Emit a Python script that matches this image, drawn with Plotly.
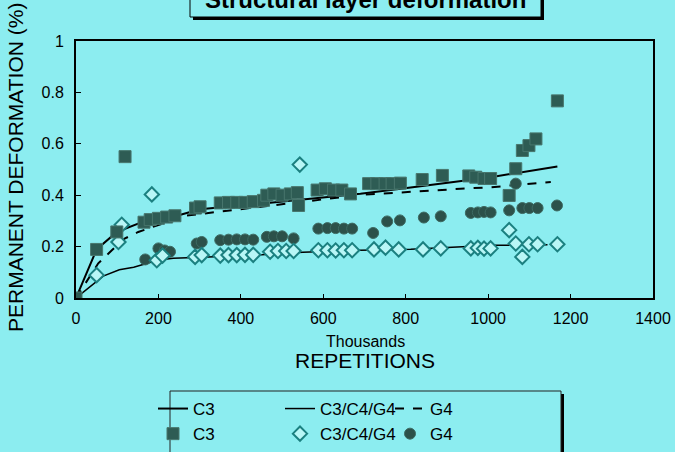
import plotly.graph_objects as go

# ---------------- data ----------------
c3_x = [0, 50, 99, 119, 165, 180, 200, 220, 240, 290, 301, 350, 370, 390, 410, 430, 455,
        463, 480, 500, 520, 537, 540, 585, 605, 625, 645, 666, 710, 730, 750, 767, 787,
        840, 889, 953, 970, 990, 1006, 1051, 1067, 1083, 1099, 1116, 1168]
c3_y = [0, 0.189, 0.257, 0.55, 0.295, 0.305, 0.31, 0.315, 0.32, 0.35, 0.355, 0.37, 0.372,
        0.372, 0.372, 0.375, 0.38, 0.40, 0.405, 0.40, 0.405, 0.41, 0.36, 0.42, 0.425, 0.42,
        0.42, 0.405, 0.445, 0.445, 0.445, 0.445, 0.447, 0.461, 0.477, 0.475, 0.47, 0.465,
        0.465, 0.399, 0.503, 0.574, 0.593, 0.619, 0.767]

mix_x = [50, 103, 111, 184, 196, 210, 289, 305, 350, 370, 390, 410, 430, 471, 490, 510,
         528, 543, 588, 610, 630, 650, 670, 723, 751, 783, 842, 885, 958, 975, 990, 1006,
         1051, 1067, 1083, 1099, 1120, 1168]
mix_y = [0.089, 0.218, 0.285, 0.403, 0.147, 0.165, 0.16, 0.167, 0.165, 0.167, 0.167, 0.168,
         0.168, 0.18, 0.183, 0.183, 0.183, 0.519, 0.186, 0.186, 0.185, 0.186, 0.186, 0.189,
         0.196, 0.189, 0.189, 0.193, 0.193, 0.195, 0.192, 0.193, 0.264, 0.212, 0.16, 0.209,
         0.209, 0.209]

g4_x = [168, 200, 215, 228, 293, 305, 350, 370, 390, 410, 430, 463, 480, 500, 528, 588,
        610, 630, 650, 670, 721, 755, 786, 844, 885, 958, 975, 990, 1006, 1051, 1067, 1083,
        1100, 1120, 1167]
g4_y = [0.15, 0.193, 0.185, 0.18, 0.212, 0.218, 0.225, 0.227, 0.228, 0.228, 0.227, 0.238,
        0.24, 0.24, 0.232, 0.27, 0.272, 0.272, 0.27, 0.27, 0.253, 0.298, 0.302, 0.313, 0.318,
        0.331, 0.333, 0.335, 0.333, 0.341, 0.445, 0.35, 0.35, 0.35, 0.36]

c3_fit_x = [0, 50, 99, 160, 245, 301, 447, 569, 690, 812, 933, 1006, 1168]
c3_fit_y = [0, 0.189, 0.257, 0.295, 0.32, 0.345, 0.367, 0.386, 0.406, 0.43, 0.455, 0.47, 0.512]

mix_fit_x = [0, 66, 105, 140, 200, 236, 321, 450, 550, 690, 812, 909, 1013, 1144]
mix_fit_y = [0, 0.085, 0.11, 0.12, 0.148, 0.155, 0.16, 0.168, 0.178, 0.186, 0.19, 0.198,
             0.205, 0.207]

g4_fit_x = [0, 54, 87, 119, 151, 265, 601, 700, 933, 1006, 1152]
g4_fit_y = [0, 0.135, 0.186, 0.232, 0.257, 0.32, 0.384, 0.402, 0.425, 0.431, 0.451]

x_ticks = [0, 200, 400, 600, 800, 1000, 1200, 1400]
y_ticks = [0, 0.2, 0.4, 0.6, 0.8, 1]

title_text = "Structural layer deformation"
x_sub = "Thousands"
x_title = "REPETITIONS"
y_title = "PERMANENT DEFORMATION (%)"

# ---------------- styling ----------------
BG = "#8CEDF0"
FONT = "Liberation Sans, Arial, sans-serif"
W, H = 675, 452
L, R, T, B = 76, 22, 41, 154
PW, PH = W - L - R, H - T - B


def px_x(p):
    return (p - L) / PW


def px_y(p):
    return (H - B - p) / PH


fig = go.Figure()

# line traces (first entry in each legend)
fig.add_trace(go.Scatter(x=c3_fit_x, y=c3_fit_y, mode="lines", name="C3",
                         line=dict(color="black", width=2), legend="legend"))
fig.add_trace(go.Scatter(x=mix_fit_x, y=mix_fit_y, mode="lines", name="C3/C4/G4",
                         line=dict(color="black", width=1.5), legend="legend2"))
fig.add_trace(go.Scatter(x=g4_fit_x, y=g4_fit_y, mode="lines", name="G4",
                         line=dict(color="black", width=2, dash="dash"), legend="legend3"))
# marker traces
fig.add_trace(go.Scatter(x=g4_x, y=g4_y, mode="markers", name="G4", legend="legend3",
                         marker=dict(symbol="circle", size=11, color="#2C514A",
                                     line=dict(color="#3D6A62", width=1))))
fig.add_trace(go.Scatter(x=mix_x, y=mix_y, mode="markers", name="C3/C4/G4", legend="legend2",
                         marker=dict(symbol="diamond", size=11, color="#B8F6F6",
                                     line=dict(color="#1B8080", width=2))))
fig.add_trace(go.Scatter(x=c3_x, y=c3_y, mode="markers", name="C3", legend="legend",
                         marker=dict(symbol="square", size=12, color="#2E5C54",
                                     line=dict(color="#48766D", width=1))))

leg_common = dict(orientation="v", bgcolor="rgba(0,0,0,0)", borderwidth=0,
                  font=dict(family=FONT, size=17, color="black"),
                  yanchor="top", xanchor="left", y=px_y(391), tracegroupgap=0)

axis_common = dict(showline=True, mirror=True, linecolor="black", linewidth=2,
                   showgrid=False, zeroline=False, ticks="inside", tickcolor="black",
                   tickfont=dict(family=FONT, size=16, color="black"))

fig.update_layout(
    width=W, height=H,
    margin=dict(l=L, r=R, t=T, b=B, autoexpand=False),
    paper_bgcolor=BG, plot_bgcolor=BG,
    font=dict(family=FONT, color="black"),
    xaxis=dict(range=[0, 1400], tickvals=x_ticks, ticklen=4, ticklabelstandoff=5,
               **axis_common),
    yaxis=dict(range=[0, 1], tickvals=y_ticks, ticklen=5, ticklabelstandoff=7,
               **axis_common),
    legend=dict(x=px_x(153), **leg_common),
    legend2=dict(x=px_x(280), **leg_common),
    legend3=dict(x=px_x(390), **leg_common),
    showlegend=True,
)

shapes = [
    # title box shadow + box
    dict(type="rect", xref="paper", yref="paper", x0=px_x(193), x1=px_x(544),
         y0=px_y(20), y1=px_y(-30), fillcolor="black", line=dict(width=0)),
    dict(type="rect", xref="paper", yref="paper", x0=px_x(190), x1=px_x(541),
         y0=px_y(17), y1=px_y(-30), fillcolor=BG, line=dict(color="black", width=1)),
    # legend box shadow + box
    dict(type="rect", xref="paper", yref="paper", x0=px_x(561), x1=px_x(564),
         y0=px_y(470), y1=px_y(394), fillcolor="black", line=dict(width=0)),
    dict(type="rect", xref="paper", yref="paper", x0=px_x(170), x1=px_x(561),
         y0=px_y(470), y1=px_y(391), fillcolor="rgba(0,0,0,0)",
         line=dict(color="#222222", width=1)),
]
fig.update_layout(shapes=shapes)

annotations = [
    dict(text="<b>" + title_text + "</b>", xref="paper", yref="paper",
         x=px_x(365), y=px_y(0), xanchor="center", yanchor="middle", showarrow=False,
         font=dict(family=FONT, size=24, color="black")),
    dict(text=x_sub, xref="paper", yref="paper", x=px_x(365), y=px_y(341),
         xanchor="center", yanchor="middle", showarrow=False,
         font=dict(family=FONT, size=16, color="black")),
    dict(text=x_title, xref="paper", yref="paper", x=px_x(365), y=px_y(360),
         xanchor="center", yanchor="middle", showarrow=False,
         font=dict(family=FONT, size=21, color="black")),
    dict(text=y_title, xref="paper", yref="paper", x=px_x(15), y=px_y(168),
         xanchor="center", yanchor="middle", showarrow=False, textangle=-90,
         font=dict(family=FONT, size=21, color="black")),
]
fig.update_layout(annotations=annotations)

post = ("document.body.style.margin='0';document.body.style.padding='0';"
        "document.body.style.background='" + BG + "';"
        "document.documentElement.style.overflow='hidden';")

fig.write_html("out.html", post_script=post, config={"displayModeBar": False})
